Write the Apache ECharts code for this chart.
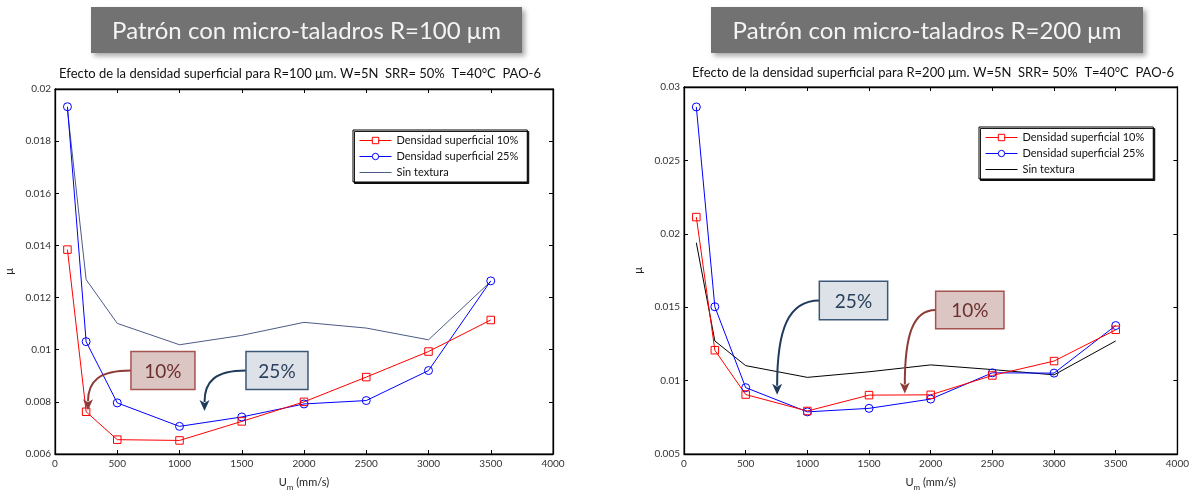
<!DOCTYPE html>
<html><head><meta charset="utf-8">
<script src="https://cdn.jsdelivr.net/npm/echarts@6/dist/echarts.min.js"></script>
<style>html,body{margin:0;padding:0;background:#fff}#c{width:1192px;height:496px}</style>
</head><body><div id="c"></div>
<script>
// ---- data ----
const speeds = [100, 250, 500, 1000, 1500, 2000, 2500, 3000, 3500];
const r100_dens10 = [0.01384, 0.00762, 0.00655, 0.00652, 0.00725, 0.00800, 0.00895, 0.00993, 0.01114];
const r100_dens25 = [0.01932, 0.01031, 0.00796, 0.00706, 0.00742, 0.00792, 0.00805, 0.00920, 0.01264];
const r100_sinTex = [0.01920, 0.01269, 0.01101, 0.01019, 0.01055, 0.01105, 0.01083, 0.01038, 0.01262];
const r200_dens10 = [0.02114, 0.01207, 0.00905, 0.00793, 0.00901, 0.00903, 0.01035, 0.01133, 0.01346];
const r200_dens25 = [0.02864, 0.01503, 0.00952, 0.00787, 0.00811, 0.00874, 0.01053, 0.01051, 0.01375];
const r200_sinTex = [0.01939, 0.01270, 0.01102, 0.01022, 0.01060, 0.01107, 0.01075, 0.01039, 0.01270];
const xTicks = {min: 0, max: 4000, interval: 500};
const yTicksR100 = {min: 0.006, max: 0.02, interval: 0.002};
const yTicksR200 = {min: 0.005, max: 0.03, interval: 0.005};
const seriesNames = ['Densidad superficial 10%', 'Densidad superficial 25%', 'Sin textura'];
const bannerTexts = ['Patrón con micro-taladros R=100 μm', 'Patrón con micro-taladros R=200 μm'];
const chartTitles = ['Efecto de la densidad superficial para R=100 μm. W=5N  SRR= 50%  T=40°C  PAO-6',
                     'Efecto de la densidad superficial para R=200 μm. W=5N  SRR= 50%  T=40°C  PAO-6'];

// ---- chart ----
const FONT = 'Lato, "Open Sans", sans-serif';
const chart = echarts.init(document.getElementById('c'), null, {renderer: 'canvas'});
const pair = arr => speeds.map((s, i) => [s, arr[i]]);
const fmt = v => String(parseFloat(v.toFixed(4)));

function xAxes(grid) {
  const base = {type: 'value', gridIndex: grid, min: xTicks.min, max: xTicks.max, interval: xTicks.interval,
    splitLine: {show: false}, axisLine: {show: true, onZero: false, lineStyle: {color: '#000', width: 1.3}},
    axisTick: {show: true, inside: true, length: 4, lineStyle: {color: '#000'}}};
  return [
    Object.assign({}, base, {position: 'bottom',
      axisLabel: {show: true, color: '#333', fontSize: 10, fontFamily: FONT, margin: 5, formatter: v => String(v)},
      name: 'U{sub|m} (mm/s)', nameLocation: 'middle', nameGap: 20,
      nameTextStyle: {color: '#222', fontSize: 11, fontFamily: FONT,
        rich: {sub: {fontSize: 8, fontFamily: FONT, color: '#222', padding: [9, 0, 0, 0]}}}}),
    Object.assign({}, base, {position: 'top', axisLabel: {show: false}})
  ];
}
function yAxes(grid, t) {
  const base = {type: 'value', gridIndex: grid, min: t.min, max: t.max, interval: t.interval,
    splitLine: {show: false}, axisLine: {show: true, onZero: false, lineStyle: {color: '#000', width: 1.3}},
    axisTick: {show: true, inside: true, length: 4, lineStyle: {color: '#000'}}};
  return [
    Object.assign({}, base, {position: 'left',
      axisLabel: {show: true, color: '#333', fontSize: 10, fontFamily: FONT, margin: 4, formatter: fmt},
      name: 'μ', nameLocation: 'middle', nameGap: 40, nameRotate: 90,
      nameTextStyle: {color: '#222', fontSize: 11, fontFamily: FONT}}),
    Object.assign({}, base, {position: 'right', axisLabel: {show: false}})
  ];
}
function lineSeries(name, data, xi, yi, color, symbol) {
  return {type: 'line', name: name, data: pair(data), xAxisIndex: xi, yAxisIndex: yi,
    symbol: symbol || 'none', showSymbol: !!symbol, symbolSize: symbol === 'rect' ? 7.5 : 8,
    lineStyle: {color: color, width: 1},
    itemStyle: {color: 'rgba(255,255,255,0)', borderColor: color, borderWidth: 1},
    emphasis: {disabled: true}, animation: false, z: symbol ? 3 : 2};
}
const sinColorL = '#4b5b86', sinColorR = '#000000';
function legend(left, top, sinColor) {
  return {show: true, orient: 'vertical', left: left, top: top, itemWidth: 32, itemHeight: 8, itemGap: 5,
    padding: [5, 9, 4, 6], borderColor: '#000', borderWidth: 1, backgroundColor: '#fff',
    shadowColor: 'rgba(0,0,0,0.9)', shadowOffsetX: 1.5, shadowOffsetY: 1.5, shadowBlur: 0,
    textStyle: {fontSize: 11, color: '#111', fontFamily: FONT},
    selectedMode: false,
    data: [
      {name: seriesNames[0], itemStyle: {color: '#fff', borderColor: '#ff0000', borderWidth: 1}, lineStyle: {color: '#ff0000', width: 1}},
      {name: seriesNames[1], itemStyle: {color: '#fff', borderColor: '#0000ff', borderWidth: 1}, lineStyle: {color: '#0000ff', width: 1}},
      {name: seriesNames[2], itemStyle: {opacity: 0}, lineStyle: {color: sinColor, width: 1}}
    ]};
}

const grids = [
  {left: 55, top: 89, width: 498, height: 374},
  {left: 684, top: 87, width: 498, height: 372}
];

const option = {
  animation: false,
  backgroundColor: '#fff',
  grid: grids.map(g => Object.assign({show: true, borderColor: '#000', borderWidth: 1, backgroundColor: 'transparent'}, g)),
  xAxis: xAxes(0).concat(xAxes(1)),
  yAxis: yAxes(0, yTicksR100).concat(yAxes(1, yTicksR200)),
  legend: [legend(353, 130, sinColorL), legend(979, 127, sinColorR)],
  series: [
    lineSeries(seriesNames[2], r100_sinTex, 0, 0, sinColorL),
    lineSeries(seriesNames[1], r100_dens25, 0, 0, '#0000ff', 'circle'),
    lineSeries(seriesNames[0], r100_dens10, 0, 0, '#ff0000', 'rect'),
    lineSeries(seriesNames[2], r200_sinTex, 2, 2, sinColorR),
    lineSeries(seriesNames[1], r200_dens25, 2, 2, '#0000ff', 'circle'),
    lineSeries(seriesNames[0], r200_dens10, 2, 2, '#ff0000', 'rect')
  ]
};
chart.setOption(option);

// ---- annotations (placed in data coordinates) ----
const callouts = [
  {grid: 0, text: '10%', box: [610, 1124, 0.00993, 0.00847], tip: [265, 0.00768], fill: '#dcc6c4', stroke: '#a5534f', color: '#6b2f2c', arrow: '#8e3b37'},
  {grid: 0, text: '25%', box: [1534, 2032, 0.00993, 0.00847], tip: [1201, 0.00765], fill: '#dde2e8', stroke: '#3c5878', color: '#2a3f5c', arrow: '#1f3a5a'},
  {grid: 1, text: '25%', box: [1097, 1651, 0.01676, 0.01414], tip: [755, 0.00903], fill: '#dde2e8', stroke: '#3c5878', color: '#2a3f5c', arrow: '#1f3a5a'},
  {grid: 1, text: '10%', box: [2040, 2594, 0.01609, 0.01354], tip: [1790, 0.00912], fill: '#dcc6c4', stroke: '#a5534f', color: '#6b2f2c', arrow: '#8e3b37'}
];
const graphics = [];
const banners = [{x: 91, y: 7, w: 431, h: 46}, {x: 711, y: 7, w: 432, h: 46}];
banners.forEach((b, i) => {
  graphics.push({type: 'rect', shape: {x: b.x, y: b.y, width: b.w, height: b.h}, z: 10,
    style: {fill: '#727272', shadowBlur: 5, shadowOffsetX: 3, shadowOffsetY: 3, shadowColor: 'rgba(0,0,0,0.35)'}});
  graphics.push({type: 'text', x: b.x + b.w / 2, y: b.y + b.h / 2 + 1, z: 11,
    style: {text: bannerTexts[i], fill: '#f4f4f4', font: '24px ' + FONT, textAlign: 'center', textVerticalAlign: 'middle'}});
});
[[300, 74], [933, 73]].forEach((p, i) => {
  graphics.push({type: 'text', x: p[0], y: p[1], z: 11,
    style: {text: chartTitles[i], fill: '#111', font: '13px ' + FONT, textAlign: 'center', textVerticalAlign: 'middle'}});
});
callouts.forEach(c => {
  const p1 = chart.convertToPixel({gridIndex: c.grid}, [c.box[0], c.box[2]]);
  const p2 = chart.convertToPixel({gridIndex: c.grid}, [c.box[1], c.box[3]]);
  const tip = chart.convertToPixel({gridIndex: c.grid}, c.tip);
  const sx = p1[0], sy = (p1[1] + p2[1]) / 2;
  const ex = tip[0], ey = tip[1] - 9;
  const cp1 = [ex + (sx - ex) * 0.25, sy];
  const cp2 = [ex, sy + (ey - sy) * 0.35];
  graphics.push({type: 'bezierCurve', z: 12,
    shape: {x1: sx, y1: sy, cpx1: cp1[0], cpy1: cp1[1], cpx2: cp2[0], cpy2: cp2[1], x2: ex, y2: ey},
    style: {stroke: c.arrow, lineWidth: 2, fill: null}});
  let dx = ex - cp2[0], dy = ey - cp2[1];
  const L = Math.hypot(dx, dy) || 1; dx /= L; dy /= L;
  const px = -dy, py = dx;
  graphics.push({type: 'polygon', z: 12,
    shape: {points: [[tip[0], tip[1]], [ex - dx * 2 + px * 5, ey - dy * 2 + py * 5], [ex + dx * 1, ey + dy * 1], [ex - dx * 2 - px * 5, ey - dy * 2 - py * 5]]},
    style: {fill: c.arrow}});
  graphics.push({type: 'rect', z: 12,
    shape: {x: p1[0], y: p1[1], width: p2[0] - p1[0], height: p2[1] - p1[1]},
    style: {fill: c.fill, stroke: c.stroke, lineWidth: 1.5}});
  graphics.push({type: 'text', z: 13, x: (p1[0] + p2[0]) / 2, y: (p1[1] + p2[1]) / 2 + 1,
    style: {text: c.text, fill: c.color, font: '19px ' + FONT, textAlign: 'center', textVerticalAlign: 'middle'}});
});
chart.setOption({graphic: graphics});
</script>
</body></html>
